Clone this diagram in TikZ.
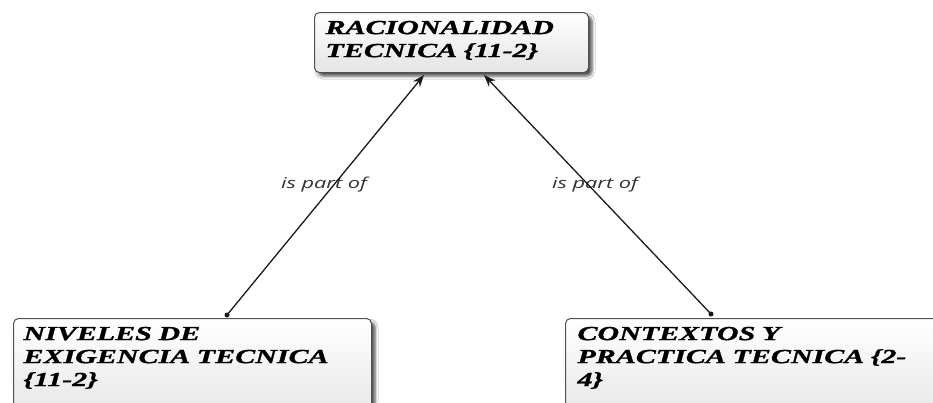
\documentclass[tikz,border=0pt]{standalone}
\usepackage{fontspec}
\setmainfont{Liberation Serif}[FakeStretch=1.5, BoldItalicFeatures={FakeBold=1.3}]
\newfontfamily\lblfont{Open Sans}[FakeStretch=1.45]
\usetikzlibrary{arrows.meta,shadows.blur}
\definecolor{boxborder}{HTML}{505050}
\definecolor{boxbot}{HTML}{E4E4E4}
\definecolor{linecol}{HTML}{1A1A1A}
\tikzset{
  conbox/.style={draw=boxborder, line width=1pt, rounded corners=5pt,
    top color=white, bottom color=boxbot,
    blur shadow={shadow xshift=3.5pt, shadow yshift=-3.5pt, shadow blur radius=3pt, shadow opacity=70},
    align=left, inner ysep=5pt,
    font=\fontsize{20}{23}\selectfont\bfseries\itshape, text height=16.6pt},
  rel/.style={draw=linecol, line width=1.3pt, -{Stealth[length=12pt,width=9pt]}},
  startdot/.style={circle, fill=linecol, inner sep=0pt, minimum size=5pt},
  lbl/.style={font=\lblfont\itshape\fontsize{15}{18}\selectfont, text=black!80, anchor=base, inner sep=0pt}
}
\begin{document}
\begin{tikzpicture}[x=1pt,y=-1pt]
\clip (0,0) rectangle (933,402);
\fill[white] (0,0) rectangle (933,402);
\node[conbox, anchor=north west, text width=252pt, inner xsep=11pt, text depth=33.5pt] (top) at (314,12)
  {RACIONALIDAD\\TECNICA \{11-2\}};
\node[conbox, anchor=north west, text width=338pt, inner xsep=10pt, text depth=80pt] (lvl) at (13,318)
  {NIVELES DE\\EXIGENCIA TECNICA\\\{11-2\}};
\node[conbox, anchor=north west, text width=380pt, inner xsep=12pt, text depth=80pt] (ctx) at (565,318)
  {CONTEXTOS Y\\PRACTICA TECNICA \{2-\\4\}};
\node[lbl] (l1) at (324,188) {is part of};
\node[lbl] (l2) at (595,188) {is part of};
\coordinate (s1) at (227,315);
\coordinate (e1) at (424,75);
\coordinate (s2) at (711,314);
\coordinate (e2) at (484,75);
\draw[rel] (s1) -- (e1);
\draw[rel] (s2) -- (e2);
\node[startdot] (d1) at (s1) {};
\node[startdot] (d2) at (s2) {};
\end{tikzpicture}
\end{document}
